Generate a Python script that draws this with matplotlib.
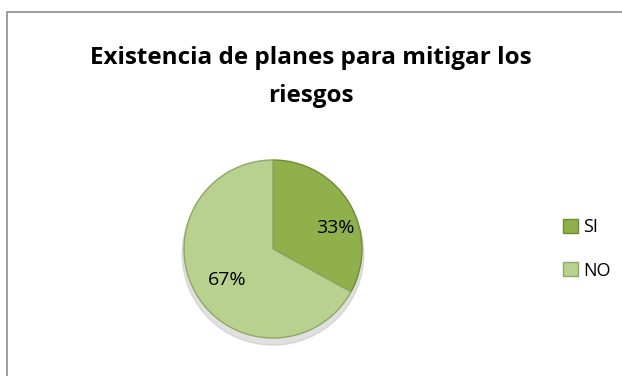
import matplotlib.pyplot as plt
from matplotlib.patches import Rectangle

etiquetas = ["SI", "NO"]
valores = [33, 67]
colores = ["#8fb04a", "#b8d18f"]
bordes = ["#6f8c35", "#8fa865"]

fig = plt.figure(figsize=(6.22, 3.76), dpi=100)
fig.patch.set_facecolor("white")

# marco del grafico (sale por la derecha y abajo)
fig.add_artist(Rectangle((7 / 622, -0.05), 1.0, 1 - 12 / 376 + 0.05,
                         transform=fig.transFigure, fill=False,
                         edgecolor="#8c8c8c", linewidth=1.2))

fig.text(0.5, 1 - 58 / 376, "Existencia de planes para mitigar los",
         ha="center", va="center", fontsize=17.5, fontweight="bold",
         family="Open Sans", color="black")
fig.text(0.5, 1 - 96 / 376, "riesgos",
         ha="center", va="center", fontsize=17.5, fontweight="bold",
         family="Open Sans", color="black")

# centro ~ (273, 249), radio ~ 89 px
r = 89
ax = fig.add_axes([(273 - r) / 622, 1 - (249 + r) / 376, 2 * r / 622, 2 * r / 376])
ax.set_aspect("equal")

# sombra
sombra = plt.Circle((0.0, -0.06), 1.02, color="#bbbbbb", alpha=0.45,
                    zorder=0, clip_on=False)
ax.add_patch(sombra)

wedges, textos, autot = ax.pie(valores, colors=colores, startangle=90,
                               counterclock=False, autopct="%.0f%%",
                               pctdistance=0.65, radius=1.0,
                               wedgeprops=dict(linewidth=1.0, zorder=2),
                               textprops=dict(fontsize=14, family="Open Sans",
                                              color="black"))
for w, b in zip(wedges, bordes):
    w.set_edgecolor(b)
    w.set_clip_on(False)
# posiciones de las etiquetas como en Excel
autot[0].set_position((0.70, 0.24))
autot[1].set_position((-0.51, -0.35))
ax.set_xlim(-1.0, 1.0)
ax.set_ylim(-1.0, 1.0)
ax.axis("off")

# leyenda
leg = fig.legend(wedges, etiquetas, loc="center left",
                 bbox_to_anchor=(547 / 622, 1 - 249 / 376), frameon=False,
                 prop=dict(family="Open Sans", size=13),
                 handlelength=0.8, handleheight=0.8, handletextpad=0.3,
                 labelspacing=1.4)

fig.savefig("out.png", dpi=100, facecolor="white")
